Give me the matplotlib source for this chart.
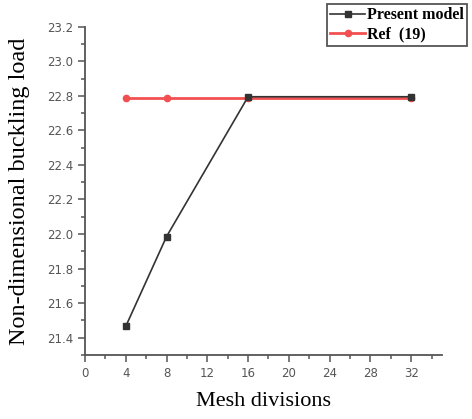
import matplotlib.pyplot as plt
from matplotlib.ticker import MultipleLocator

# mesh convergence data
mesh = [4, 8, 16, 32]
present_model = [21.465, 21.985, 22.795, 22.795]
ref_19 = [22.785, 22.785, 22.785, 22.785]

fig = plt.figure(figsize=(4.72, 4.19), dpi=100)
ax = fig.add_axes([0.180, 0.153, 0.756, 0.783])

ax.plot(mesh, ref_19, color='#f25050', lw=2.0, marker='o', ms=4.5,
        label='Ref  (19)', zorder=2)
ax.plot(mesh, present_model, color='#333333', lw=1.2, marker='s', ms=4.5,
        label='Present model', zorder=3)

ax.set_xlim(0, 35)
ax.set_ylim(21.3, 23.2)
ax.xaxis.set_major_locator(MultipleLocator(4))
ax.xaxis.set_minor_locator(MultipleLocator(2))
ax.yaxis.set_minor_locator(MultipleLocator(0.1))
ax.set_yticks([21.4 + 0.2 * i for i in range(10)])
ax.set_yticklabels([f'{21.4 + 0.2 * i:.1f}' for i in range(10)])

for side in ('top', 'right'):
    ax.spines[side].set_visible(False)
for side in ('left', 'bottom'):
    ax.spines[side].set_color('#555555')
    ax.spines[side].set_linewidth(1.3)

ax.tick_params(which='both', direction='out', color='#555555', width=1.1,
               labelsize=8.5, labelcolor='#555555')
ax.tick_params(which='major', length=5)
ax.tick_params(which='minor', length=3)

ax.set_xlabel('Mesh divisions', family='Liberation Serif', fontsize=16,
              labelpad=9)
ax.set_ylabel('Non-dimensional buckling load', family='Liberation Serif',
              fontsize=17.5, labelpad=12)

handles, labels = ax.get_legend_handles_labels()
leg = fig.legend(handles[::-1], labels[::-1], loc='upper left',
                 bbox_to_anchor=(327 / 472, 1 - 4 / 419),
                 bbox_transform=fig.transFigure,
                 prop={'family': 'Liberation Serif', 'weight': 'bold',
                       'size': 11.5},
                 fancybox=False, edgecolor='#555555', framealpha=1,
                 handlelength=2.2, handletextpad=0.1, borderpad=0.2,
                 labelspacing=0.2, borderaxespad=0)
leg.get_frame().set_linewidth(1.3)

fig.savefig('out.png', dpi=100)
